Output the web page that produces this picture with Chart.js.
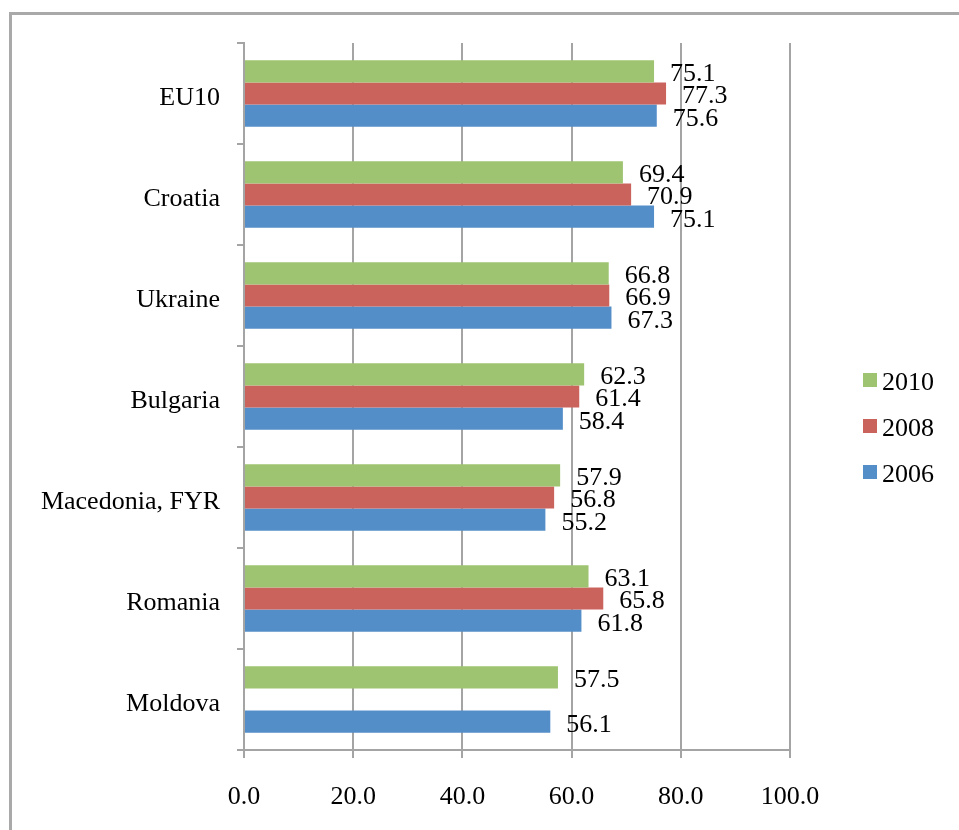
<!DOCTYPE html>
<html>
<head>
<meta charset="utf-8">
<script src="https://cdn.jsdelivr.net/npm/chart.js@4.4.1/dist/chart.umd.min.js"></script>
<style>
  html, body { margin: 0; padding: 0; background: #fff; }
  #wrap { position: relative; width: 959px; height: 830px; overflow: hidden; }
  #frame {
    position: absolute; left: 9px; top: 12px; width: 1000px; height: 900px;
    border-left: 3px solid #a9a9a9; border-top: 3px solid #a9a9a9;
  }
  #box { position: absolute; left: 0; top: 0; width: 959px; height: 830px; }
</style>
</head>
<body>
<div id="wrap">
  <div id="frame"></div>
  <div id="box"><canvas id="chart"></canvas></div>
</div>
<script>
// categories, top to bottom
const categories = ['EU10', 'Croatia', 'Ukraine', 'Bulgaria', 'Macedonia, FYR', 'Romania', 'Moldova'];
const years = ['2010', '2008', '2006'];
const values2010 = [75.1, 69.4, 66.8, 62.3, 57.9, 63.1, 57.5];
const values2008 = [77.3, 70.9, 66.9, 61.4, 56.8, 65.8, null];
const values2006 = [75.6, 75.1, 67.3, 58.4, 55.2, 61.8, 56.1];
const xTicks = [0, 20, 40, 60, 80, 100];

const colors = ['#9fc471', '#cb635d', '#548ec9'];
const serif = '"Liberation Serif", "Times New Roman", serif';
const gridGrey = '#a4a4a4';

// value written to the right of each bar
const valueLabels = {
    id: 'valueLabels',
    afterDatasetsDraw(chart) {
        const ctx = chart.ctx;
        ctx.save();
        ctx.font = '26px ' + serif;
        ctx.fillStyle = '#000';
        ctx.textAlign = 'left';
        ctx.textBaseline = 'middle';
        chart.data.datasets.forEach((ds, i) => {
            chart.getDatasetMeta(i).data.forEach((bar, j) => {
                const v = ds.data[j];
                if (v === null || v === undefined) return;
                ctx.fillText(v.toFixed(1), bar.x + 16, bar.y + 3);
            });
        });
        ctx.restore();
    }
};

// legend on the right: small square + year
const sideLegend = {
    id: 'sideLegend',
    afterDraw(chart) {
        const ctx = chart.ctx;
        const area = chart.chartArea;
        const x = area.right + 73;
        const mid = chart.height / 2 + 12;
        ctx.save();
        ctx.font = '26px ' + serif;
        ctx.textAlign = 'left';
        ctx.textBaseline = 'middle';
        chart.data.datasets.forEach((ds, i) => {
            const y = mid + (i - 1) * 46;
            ctx.fillStyle = ds.backgroundColor;
            ctx.fillRect(x, y - 8, 14, 14);
            ctx.fillStyle = '#000';
            ctx.fillText(ds.label, x + 19, y + 2);
        });
        ctx.restore();
    }
};

const series = [values2010, values2008, values2006];

new Chart(document.getElementById('chart'), {
    type: 'bar',
    data: {
        labels: categories,
        datasets: series.map((vals, i) => ({
            label: years[i],
            data: vals,
            backgroundColor: colors[i],
            borderWidth: 0,
            categoryPercentage: 0.66,
            barPercentage: 1.0
        }))
    },
    options: {
        indexAxis: 'y',
        responsive: true,
        maintainAspectRatio: false,
        animation: false,
        layout: { padding: { left: 0, top: 43, right: 169, bottom: 0 } },
        plugins: {
            legend: { display: false },
            tooltip: { enabled: false }
        },
        scales: {
            x: {
                min: 0,
                max: 100,
                afterBuildTicks: scale => { scale.ticks = xTicks.map(v => ({ value: v })); },
                afterFit: scale => { scale.height = 80; },
                ticks: {
                    color: '#000',
                    font: { family: serif, size: 26 },
                    padding: 24,
                    callback: v => Number(v).toFixed(1)
                },
                grid: { color: gridGrey, lineWidth: 2, tickLength: 8 },
                border: { color: gridGrey, width: 2 }
            },
            y: {
                afterFit: scale => { scale.width = 244; },
                ticks: {
                    color: '#000',
                    font: { family: serif, size: 26 },
                    padding: 17,
                    labelOffset: 5
                },
                grid: { offset: true, drawOnChartArea: false, color: gridGrey, lineWidth: 2, tickLength: 7 },
                border: { color: gridGrey, width: 2 }
            }
        }
    },
    plugins: [valueLabels, sideLegend]
});
</script>
</body>
</html>
